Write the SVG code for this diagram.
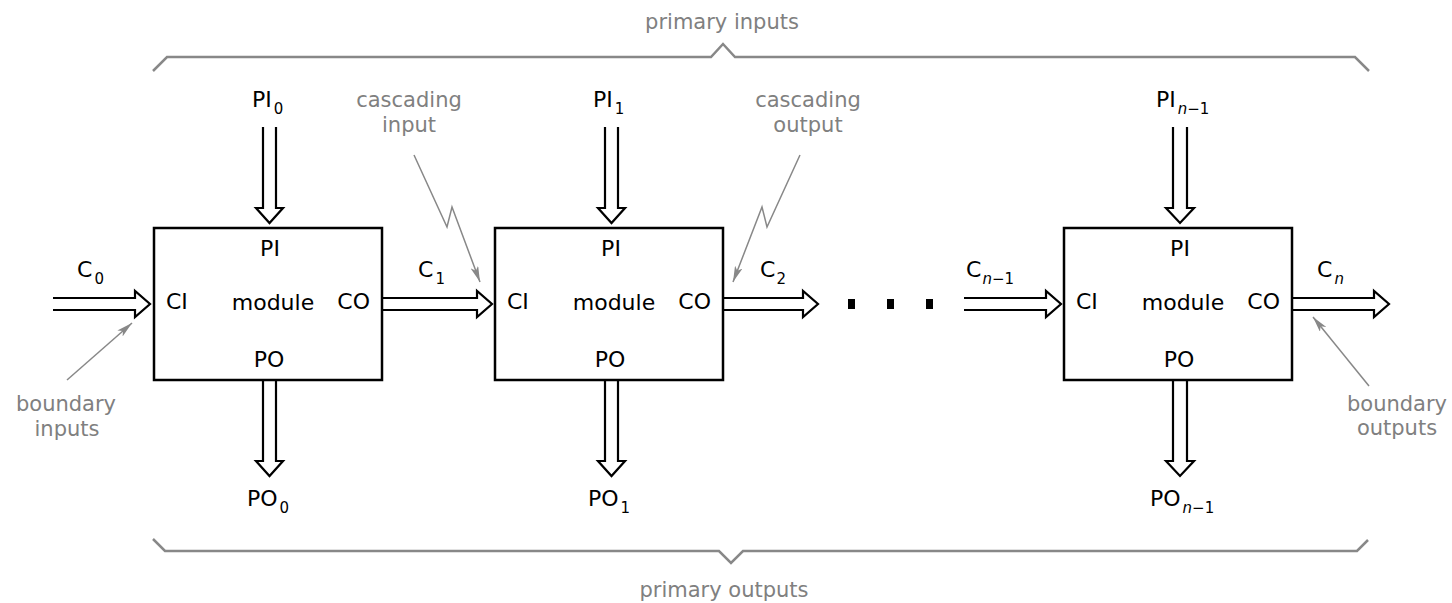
<svg xmlns="http://www.w3.org/2000/svg" width="1452" height="603" viewBox="0 0 1452 603">
<style>
.box{fill:#fff;stroke:#000;stroke-width:2.5}
.harrow{fill:none;stroke:#000;stroke-width:2.2;stroke-linejoin:miter}
.brace{fill:none;stroke:#888;stroke-width:2.5}
.lead{fill:none;stroke:#888;stroke-width:1.5}
.lbl{font-family:"DejaVu Sans",sans-serif;font-size:22px;fill:#000}
.sub{font-size:15px}
.note{font-family:"DejaVu Sans",sans-serif;font-size:21px;fill:#808080;text-anchor:middle}
.mid{text-anchor:middle}
.end{text-anchor:end}
</style>
<defs>
<marker id="ah" markerUnits="userSpaceOnUse" markerWidth="16" markerHeight="8" refX="16" refY="4" orient="auto">
<path d="M0,0 L16,4 L0,8 L4,4 z" fill="#888"/>
</marker>
</defs>
<rect width="1452" height="603" fill="#fff"/>

<g id="brace-top">
<path class="brace" d="M153,71 L167,57 L711,57 L723,44 L735,57 L1355,57 L1369,71"/>
<text class="note" x="722" y="29">primary inputs</text>
</g>
<g id="brace-bottom">
<path class="brace" d="M153,539 L165,551 L719,551 L731,563 L743,551 L1357,551 L1368,540"/>
<text class="note" x="724" y="597">primary outputs</text>
</g>

<g id="module-0">
<rect class="box" x="154" y="228" width="228" height="152"/>
<text class="lbl mid" x="270" y="256">PI</text>
<text class="lbl mid" x="273" y="310">module</text>
<text class="lbl mid" x="269" y="367">PO</text>
<text class="lbl" x="166" y="309">CI</text>
<text class="lbl end" x="370" y="309">CO</text>
</g>
<g id="module-1">
<rect class="box" x="495" y="228" width="228" height="152"/>
<text class="lbl mid" x="611" y="256">PI</text>
<text class="lbl mid" x="614" y="310">module</text>
<text class="lbl mid" x="610" y="367">PO</text>
<text class="lbl" x="507" y="309">CI</text>
<text class="lbl end" x="711" y="309">CO</text>
</g>
<g id="module-n-1">
<rect class="box" x="1064" y="228" width="228" height="152"/>
<text class="lbl mid" x="1180" y="256">PI</text>
<text class="lbl mid" x="1183" y="310">module</text>
<text class="lbl mid" x="1179" y="367">PO</text>
<text class="lbl" x="1076" y="309">CI</text>
<text class="lbl end" x="1280" y="309">CO</text>
</g>

<g id="connectors">
<path class="harrow" d="M53,298 L135,298 L135,291 L150,304 L135,317 L135,310 L53,310"/>
<path class="harrow" d="M382,298 L477,298 L477,291 L492,304 L477,317 L477,310 L382,310"/>
<path class="harrow" d="M723,298 L803,298 L803,291 L818,304 L803,317 L803,310 L723,310"/>
<path class="harrow" d="M964,298 L1046,298 L1046,291 L1061,304 L1046,317 L1046,310 L964,310"/>
<path class="harrow" d="M1292,298 L1374,298 L1374,291 L1389,304 L1374,317 L1374,310 L1292,310"/>
<path class="harrow" d="M263,127 L263,208 L256,208 L269.5,223 L283,208 L276,208 L276,127"/>
<path class="harrow" d="M605,127 L605,208 L598,208 L611.5,223 L625,208 L618,208 L618,127"/>
<path class="harrow" d="M1173,127 L1173,208 L1166,208 L1180,223 L1194,208 L1187,208 L1187,127"/>
<path class="harrow" d="M263,381 L263,461 L256,461 L269.5,476 L283,461 L276,461 L276,381"/>
<path class="harrow" d="M605,381 L605,461 L598,461 L611.5,476 L625,461 L618,461 L618,381"/>
<path class="harrow" d="M1173,381 L1173,461 L1166,461 L1180,476 L1194,461 L1187,461 L1187,381"/>
<rect x="848" y="299" width="7" height="10" fill="#000"/>
<rect x="887" y="299" width="7" height="10" fill="#000"/>
<rect x="926" y="299" width="7" height="10" fill="#000"/>
</g>

<g id="signal-labels">
<text class="lbl" x="252" y="107">PI<tspan class="sub" dx="2" dy="7">0</tspan></text>
<text class="lbl" x="593" y="107">PI<tspan class="sub" dx="2" dy="7">1</tspan></text>
<text class="lbl" x="1156" y="107">PI<tspan class="sub" dx="2" dy="7"><tspan font-style="italic">n</tspan>−1</tspan></text>
<text class="lbl" x="247" y="506">PO<tspan class="sub" dx="2" dy="7">0</tspan></text>
<text class="lbl" x="588" y="506">PO<tspan class="sub" dx="2" dy="7">1</tspan></text>
<text class="lbl" x="1150" y="506">PO<tspan class="sub" dx="2" dy="7"><tspan font-style="italic">n</tspan>−1</tspan></text>
<text class="lbl" x="77" y="277">C<tspan class="sub" dx="2" dy="7">0</tspan></text>
<text class="lbl" x="418" y="277">C<tspan class="sub" dx="2" dy="7">1</tspan></text>
<text class="lbl" x="760" y="277">C<tspan class="sub" dx="1" dy="7">2</tspan></text>
<text class="lbl" x="966" y="277">C<tspan class="sub" dx="1" dy="7"><tspan font-style="italic">n</tspan>−1</tspan></text>
<text class="lbl" x="1317" y="277">C<tspan class="sub" dx="2" dy="7" font-style="italic">n</tspan></text>
</g>

<g id="annotations">
<text class="note" x="409" y="107">cascading</text>
<text class="note" x="409" y="132">input</text>
<path class="lead" d="M414,155 L447,227 L452,207 L480,282" marker-end="url(#ah)"/>
<text class="note" x="808" y="107">cascading</text>
<text class="note" x="808" y="132">output</text>
<path class="lead" d="M800,155 L767,227 L762,207 L733,282" marker-end="url(#ah)"/>
<text class="note" x="66" y="411">boundary</text>
<text class="note" x="67" y="436">inputs</text>
<path class="lead" d="M67,380 L132,323" marker-end="url(#ah)"/>
<text class="note" x="1397" y="411">boundary</text>
<text class="note" x="1397" y="435">outputs</text>
<path class="lead" d="M1369,386 L1313,317" marker-end="url(#ah)"/>
</g>
</svg>
